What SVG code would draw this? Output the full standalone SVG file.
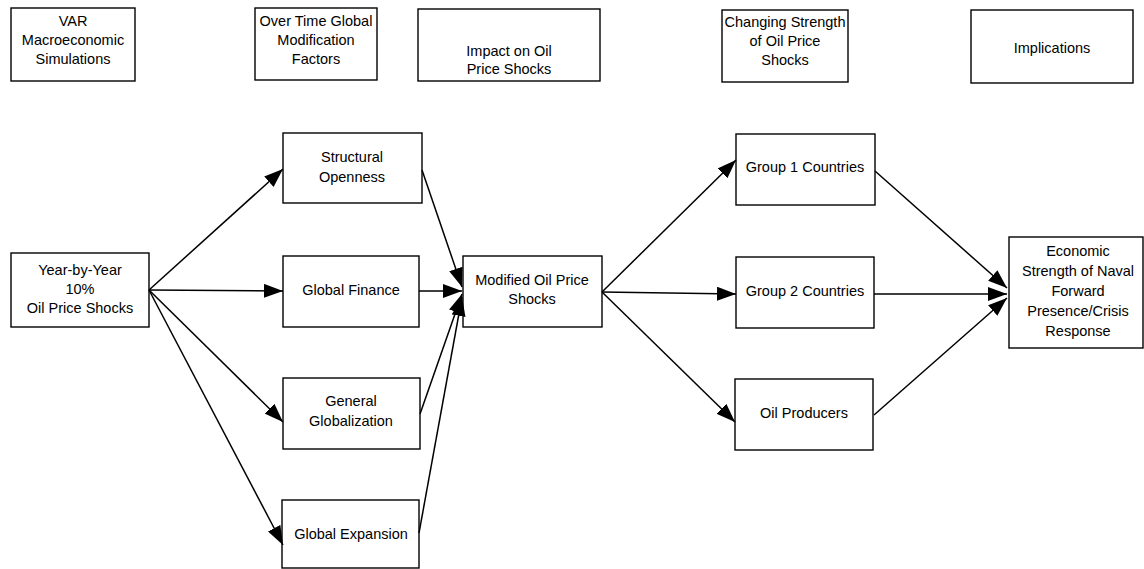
<svg xmlns="http://www.w3.org/2000/svg" width="1144" height="569" viewBox="0 0 1144 569">
<style>
.box{fill:#fff;stroke:#000;stroke-width:1.4}
.t{font-family:"Liberation Sans",Arial,sans-serif;font-size:14.5px;fill:#000;text-anchor:middle}
.c{stroke:#000;stroke-width:1.5;fill:none;marker-end:url(#ah)}
</style>
<defs>
<marker id="ah" markerUnits="userSpaceOnUse" markerWidth="20" markerHeight="14" refX="19" refY="7" orient="auto">
<path d="M0,0 L19,7 L0,14 z" fill="#000"/>
</marker>
</defs>
<rect width="1144" height="569" fill="#fff"/>
<g id="h1"><rect class="box" x="11" y="8" width="124" height="73"/><text class="t" x="73" y="26">VAR</text><text class="t" x="73" y="45">Macroeconomic</text><text class="t" x="73" y="64">Simulations</text></g>
<g id="h2"><rect class="box" x="255" y="8" width="122" height="72"/><text class="t" x="316" y="26">Over Time Global</text><text class="t" x="316" y="45">Modification</text><text class="t" x="316" y="64">Factors</text></g>
<g id="h3"><rect class="box" x="418" y="9" width="182" height="72"/><text class="t" x="509" y="56">Impact on Oil</text><text class="t" x="509" y="74">Price Shocks</text></g>
<g id="h4"><rect class="box" x="722" y="10" width="126" height="72"/><text class="t" x="785" y="27">Changing Strength</text><text class="t" x="785" y="46">of Oil Price</text><text class="t" x="785" y="65">Shocks</text></g>
<g id="h5"><rect class="box" x="971" y="10" width="162" height="73"/><text class="t" x="1052" y="53">Implications</text></g>
<g id="n_year"><rect class="box" x="11" y="253" width="138" height="74"/><text class="t" x="80" y="275">Year-by-Year</text><text class="t" x="80" y="294">10%</text><text class="t" x="80" y="313">Oil Price Shocks</text></g>
<g id="n_struct"><rect class="box" x="283" y="133" width="139" height="70"/><text class="t" x="352" y="162">Structural</text><text class="t" x="352" y="182">Openness</text></g>
<g id="n_fin"><rect class="box" x="283" y="256" width="136" height="71"/><text class="t" x="351" y="295">Global Finance</text></g>
<g id="n_glob"><rect class="box" x="283" y="378" width="137" height="71"/><text class="t" x="351" y="406">General</text><text class="t" x="351" y="426">Globalization</text></g>
<g id="n_exp"><rect class="box" x="282" y="500" width="137" height="68"/><text class="t" x="351" y="539">Global Expansion</text></g>
<g id="n_mod"><rect class="box" x="463" y="256" width="139" height="71"/><text class="t" x="532" y="285">Modified Oil Price</text><text class="t" x="532" y="304">Shocks</text></g>
<g id="n_g1"><rect class="box" x="736" y="134" width="139" height="71"/><text class="t" x="805" y="172">Group 1 Countries</text></g>
<g id="n_g2"><rect class="box" x="736" y="257" width="138" height="71"/><text class="t" x="805" y="296">Group 2 Countries</text></g>
<g id="n_op"><rect class="box" x="735" y="379" width="138" height="71"/><text class="t" x="804" y="418">Oil Producers</text></g>
<g id="n_econ"><rect class="box" x="1009" y="237" width="134" height="111"/><text class="t" x="1078" y="256">Economic</text><text class="t" x="1078" y="276">Strength of Naval</text><text class="t" x="1078" y="296">Forward</text><text class="t" x="1078" y="316">Presence/Crisis</text><text class="t" x="1078" y="336">Response</text></g>
<g id="connectors">
<line class="c" x1="149" y1="290" x2="283" y2="169"/>
<line class="c" x1="149" y1="290" x2="283" y2="291"/>
<line class="c" x1="149" y1="290" x2="283" y2="422"/>
<line class="c" x1="149" y1="290" x2="283" y2="545"/>
<line class="c" x1="422" y1="170" x2="462" y2="287"/>
<line class="c" x1="419" y1="291" x2="462" y2="291"/>
<line class="c" x1="420" y1="414" x2="462" y2="294"/>
<line class="c" x1="419" y1="533" x2="462" y2="297"/>
<line class="c" x1="602" y1="292" x2="736" y2="160"/>
<line class="c" x1="602" y1="292" x2="736" y2="294"/>
<line class="c" x1="602" y1="292" x2="735" y2="422"/>
<line class="c" x1="875" y1="171" x2="1007" y2="288"/>
<line class="c" x1="874" y1="294" x2="1007" y2="294"/>
<line class="c" x1="874" y1="415" x2="1007" y2="298"/>
</g>
</svg>
